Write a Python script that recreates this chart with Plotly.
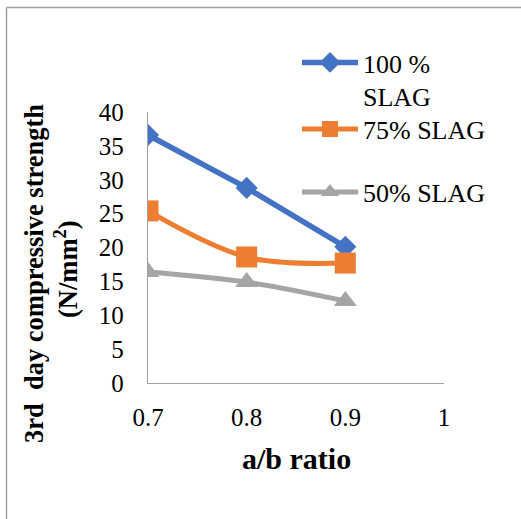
import plotly.graph_objects as go

# ---- data ----
ab_ratio = [0.7, 0.8, 0.9]
slag_100 = [36.6, 28.8, 20.1]
slag_75 = [25.4, 18.6, 17.7]
slag_50 = [16.4, 14.9, 12.1]
series_names = ["100 %<br>SLAG", "75% SLAG", "50% SLAG"]
x_tickvals = [0.7, 0.8, 0.9, 1.0]
x_ticktext = ["0.7", "0.8", "0.9", "1"]
y_tickvals = [0, 5, 10, 15, 20, 25, 30, 35, 40]

FONT = "Liberation Serif"
W, H = 521, 519
L, R, T, B = 148, 77, 112, 136
pw, ph = W - L - R, H - T - B


def px(xp):
    return (xp - L) / pw


def py(yp):
    return (H - B - yp) / ph


fig = go.Figure()
fig.add_trace(go.Scatter(
    x=ab_ratio, y=slag_100, name=series_names[0], mode="lines+markers",
    line=dict(color="#4472C4", width=5.5),
    marker=dict(symbol="diamond", size=17, color="#4472C4"),
    legend="legend"))
fig.add_trace(go.Scatter(
    x=ab_ratio, y=slag_75, name=series_names[1], mode="lines+markers",
    line=dict(color="#ED7D31", width=5, shape="spline"),
    marker=dict(symbol="square", size=21, color="#ED7D31"),
    legend="legend2"))
fig.add_trace(go.Scatter(
    x=ab_ratio, y=slag_50, name=series_names[2], mode="lines+markers",
    line=dict(color="#A5A5A5", width=5, shape="spline"),
    marker=dict(symbol="triangle-up", size=20, color="#A5A5A5"),
    legend="legend3"))

leg_common = dict(font=dict(family=FONT, size=26, color="black"),
                  bgcolor="rgba(0,0,0,0)", borderwidth=0,
                  xanchor="left", itemwidth=56, valign="top")

fig.update_layout(
    width=W, height=H,
    margin=dict(l=L, r=R, t=T, b=B, pad=0),
    paper_bgcolor="white", plot_bgcolor="white",
    font=dict(family=FONT, color="black"),
    legend=dict(x=px(297), y=py(39), yanchor="top", **leg_common),
    legend2=dict(x=px(297), y=py(129), yanchor="middle", **leg_common),
    legend3=dict(x=px(297), y=py(192), yanchor="middle", **leg_common),
    xaxis=dict(range=[0.7, 1.0], tickvals=x_tickvals, ticktext=x_ticktext,
               showgrid=False, zeroline=False, showline=True,
               linecolor="#A0A0A0", linewidth=1.3, ticks="",
               ticklabelstandoff=12,
               tickfont=dict(family=FONT, size=25, color="black")),
    yaxis=dict(range=[0, 40], tickvals=y_tickvals,
               showgrid=False, zeroline=False, showline=True,
               linecolor="#A0A0A0", linewidth=1.3, ticks="",
               ticklabelstandoff=18,
               tickfont=dict(family=FONT, size=25, color="black")),
    showlegend=True,
)

# axis titles as annotations for exact placement
fig.add_annotation(text="<b>a/b ratio</b>", xref="paper", yref="paper",
                   x=px(296), y=py(458), showarrow=False,
                   xanchor="center", yanchor="middle",
                   font=dict(family=FONT, size=30, color="black"))
fig.add_annotation(text="<b>3rd  day compressive strength</b>", xref="paper", yref="paper",
                   x=px(34), y=py(274), showarrow=False, textangle=-90,
                   xanchor="center", yanchor="middle",
                   font=dict(family=FONT, size=26.5, color="black"))
fig.add_annotation(text="<b>(N/mm<sup>2</sup>)</b>", xref="paper", yref="paper",
                   x=px(66), y=py(269), showarrow=False, textangle=-90,
                   xanchor="center", yanchor="middle",
                   font=dict(family=FONT, size=26.5, color="black"))

# outer frame lines (left and top)
fig.add_shape(type="line", xref="paper", yref="paper",
              x0=px(6.5), x1=px(6.5), y0=py(H), y1=py(7.5),
              line=dict(color="#A0A0A0", width=1.5))
fig.add_shape(type="line", xref="paper", yref="paper",
              x0=px(6.5), x1=px(W), y0=py(7.5), y1=py(7.5),
              line=dict(color="#A0A0A0", width=1.5))

fig.write_html("out.html")
